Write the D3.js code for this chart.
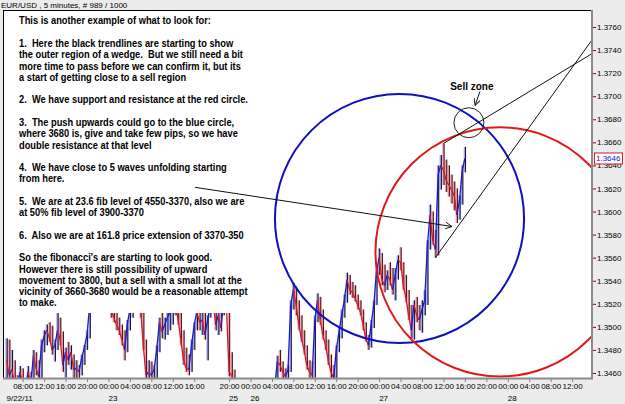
<!DOCTYPE html>
<html>
<head>
<meta charset="utf-8">
<script src="https://d3js.org/d3.v7.min.js"></script>
<style>
  body { margin: 0; background: #ececec; }
  svg { display: block; font-family: "Liberation Sans", Arial, sans-serif; }
</style>
</head>
<body>
<svg id="chart" width="625" height="404"></svg>
<script>
// EUR/USD 5 minute chart, resampled to 30 minute slots (slot 0 = 9/22 05:00)
const highs = [
  1.3490,1.3489,1.3480,1.3471,1.3458,1.3466,1.3464,1.3454,1.3466,1.3461,
  1.3480,1.3478,1.3471,1.3489,1.3497,1.3502,1.3504,1.3501,1.3489,1.3515,
  1.3508,1.3496,1.3482,1.3487,1.3484,1.3476,1.3471,1.3467,1.3476,1.3484,
  1.3497,1.3523,1.3541,1.3549,1.3554,1.3549,1.3541,1.3536,1.3532,1.3528,
  1.3523,1.3519,1.3508,1.3502,1.3497,1.3506,1.3519,1.3532,1.3536,1.3541,
  1.3532,1.3519,1.3489,1.3471,1.3470,1.3467,1.3484,1.3508,1.3515,1.3508,
  1.3513,1.3519,1.3523,1.3528,1.3519,1.3513,1.3497,1.3482,1.3476,1.3489,
  1.3504,1.3516,1.3519,1.3515,1.3513,1.3510,1.3523,1.3532,1.3519,1.3515,
  1.3516,1.3528,1.3532,
  1.3515,1.3478,1.3463,1.3450,1.3447,1.3445,1.3444,1.3441,1.3444,1.3447,
  1.3445,1.3443,1.3445,1.3449,1.3451,1.3450,1.3447,1.3451,1.3475,1.3480,
  1.3470,1.3464,1.3467,1.3523,1.3538,1.3535,1.3523,1.3510,1.3497,1.3484,
  1.3471,1.3470,1.3510,1.3529,1.3526,1.3515,1.3497,1.3489,1.3476,1.3467,
  1.3484,1.3499,1.3515,1.3528,1.3547,1.3545,1.3539,1.3536,1.3528,1.3523,
  1.3515,1.3504,1.3493,1.3506,1.3523,1.3551,1.3568,1.3564,1.3554,1.3549,
  1.3556,1.3551,1.3551,1.3562,1.3569,1.3556,1.3545,1.3532,1.3519,1.3523,
  1.3526,1.3519,1.3523,1.3532,1.3575,1.3606,1.3600,1.3584,1.3640,1.3649,
  1.3659,1.3645,1.3640,1.3632,1.3626,1.3620,1.3614,1.3640,1.3656
];
const lows = [
  1.3450,1.3454,1.3450,1.3445,1.3441,1.3444,1.3445,1.3441,1.3447,1.3444,
  1.3450,1.3458,1.3452,1.3454,1.3478,1.3484,1.3487,1.3476,1.3470,1.3480,
  1.3484,1.3461,1.3456,1.3467,1.3463,1.3450,1.3452,1.3450,1.3458,1.3467,
  1.3480,1.3490,1.3515,1.3528,1.3532,1.3528,1.3519,1.3515,1.3513,1.3508,
  1.3504,1.3497,1.3493,1.3484,1.3471,1.3478,1.3497,1.3508,1.3519,1.3523,
  1.3508,1.3480,1.3450,1.3444,1.3445,1.3441,1.3454,1.3478,1.3490,1.3489,
  1.3493,1.3497,1.3502,1.3510,1.3502,1.3484,1.3467,1.3461,1.3458,1.3461,
  1.3480,1.3497,1.3497,1.3493,1.3489,1.3471,1.3508,1.3515,1.3497,1.3493,
  1.3496,1.3510,1.3515,
  1.3457,1.3454,1.3441,1.3432,1.3430,1.3428,1.3426,1.3424,1.3426,1.3430,
  1.3428,1.3424,1.3428,1.3432,1.3435,1.3433,1.3431,1.3435,1.3450,1.3461,
  1.3454,1.3450,1.3450,1.3461,1.3515,1.3510,1.3497,1.3487,1.3476,1.3463,
  1.3456,1.3454,1.3456,1.3504,1.3502,1.3489,1.3480,1.3467,1.3456,1.3450,
  1.3454,1.3478,1.3490,1.3508,1.3521,1.3528,1.3525,1.3522,1.3515,1.3510,
  1.3497,1.3487,1.3480,1.3482,1.3499,1.3519,1.3545,1.3536,1.3530,1.3532,
  1.3536,1.3528,1.3523,1.3541,1.3549,1.3532,1.3521,1.3506,1.3490,1.3489,
  1.3504,1.3497,1.3495,1.3510,1.3519,1.3567,1.3571,1.3560,1.3562,1.3619,
  1.3623,1.3617,1.3613,1.3607,1.3601,1.3590,1.3593,1.3606,1.3634
];
const closes = [
  1.3471,1.3458,1.3463,1.3450,1.3445,1.3461,1.3450,1.3447,1.3461,1.3450,
  1.3475,1.3464,1.3457,1.3484,1.3492,1.3497,1.3490,1.3480,1.3484,1.3497,
  1.3489,1.3467,1.3478,1.3471,1.3478,1.3463,1.3464,1.3461,1.3473,1.3482,
  1.3493,1.3519,1.3536,1.3541,1.3545,1.3532,1.3532,1.3523,1.3519,1.3515,
  1.3508,1.3502,1.3497,1.3489,1.3480,1.3502,1.3515,1.3528,1.3532,1.3528,
  1.3515,1.3484,1.3458,1.3461,1.3458,1.3463,1.3480,1.3504,1.3496,1.3502,
  1.3508,1.3513,1.3519,1.3519,1.3506,1.3489,1.3471,1.3464,1.3463,1.3484,
  1.3502,1.3513,1.3504,1.3506,1.3493,1.3506,1.3519,1.3523,1.3502,1.3510,
  1.3499,1.3523,1.3519,
  1.3461,1.3458,1.3445,1.3441,1.3438,1.3437,1.3432,1.3430,1.3437,1.3441,
  1.3435,1.3432,1.3438,1.3444,1.3445,1.3441,1.3438,1.3447,1.3470,1.3467,
  1.3461,1.3457,1.3463,1.3519,1.3532,1.3519,1.3502,1.3490,1.3480,1.3467,
  1.3461,1.3458,1.3506,1.3523,1.3506,1.3493,1.3484,1.3471,1.3461,1.3456,
  1.3480,1.3495,1.3510,1.3523,1.3541,1.3532,1.3530,1.3525,1.3519,1.3513,
  1.3502,1.3490,1.3484,1.3502,1.3519,1.3548,1.3560,1.3541,1.3536,1.3545,
  1.3541,1.3532,1.3545,1.3558,1.3556,1.3536,1.3525,1.3510,1.3497,1.3519,
  1.3510,1.3506,1.3515,1.3523,1.3571,1.3597,1.3575,1.3567,1.3632,1.3640,
  1.3636,1.3627,1.3623,1.3619,1.3614,1.3597,1.3610,1.3636,1.3646
];

const priceTicks = d3.range(1.3460, 1.37601, 0.002);
const timeTickSlots = [6,14,22,30,38,46,54,62,70,83,91,99,107,115,123,131,139,147,155,163,171,179,187,195,203,211];
const timeTickLabels = ["08:00","12:00","16:00","20:00","00:00","04:00","08:00","12:00","16:00",
  "20:00","00:00","04:00","08:00","12:00","16:00","20:00","00:00","04:00","08:00","12:00","16:00","20:00",
  "00:00","04:00","08:00","12:00"];
const dateSlots = [0, 38, 83, 91, 139, 187];
const dateLabels = ["9/22/11", "23", "25", "26", "27", "28"];

// drawn objects (slot, price)
const trendlines = [
  {k1: 163, p1: 1.3659, k2: 218.5, p2: 1.3737},
  {k1: 160, p1: 1.3560, k2: 218.5, p2: 1.3749}
];
const arrows = [
  {k1: 70.3, p1: 1.3621, k2: 166.2, p2: 1.3587},
  {k1: 176.6, p1: 1.3704, k2: 174.8, p2: 1.3692}
];
const circles = [
  {k: 146.6, p: 1.3594, r: 0.0108, color: "#1010c0"},
  {k: 184.1, p: 1.3565, r: 0.0108, color: "#e01818"},
  {k: 172.5, p: 1.3677, r: 0.0013, color: "#222"}
];
const sellLabel = {k: 173.6, p: 1.3705, text: "Sell zone"};

const notes = [
  "This is another example of what to look for:",
  "",
  "1.  Here the black trendlines are starting to show",
  "the outer region of a wedge.  But we still need a bit",
  "more time to pass before we can confirm it, but its",
  "a start of getting close to a sell region",
  "",
  "2.  We have support and resistance at the red circle.",
  "",
  "3.  The push upwards could go to the blue circle,",
  "where 3680 is, give and take few pips, so we have",
  "double resistance at that level",
  "",
  "4.  We have close to 5 waves unfolding starting",
  "from here.",
  "",
  "5.  We are at 23.6 fib level of 4550-3370, also we are",
  "at 50% fib level of 3900-3370",
  "",
  "6.  Also we are at 161.8 price extension of 3370-350",
  "",
  "So the fibonacci's are starting to look good.",
  "However there is still possibility of upward",
  "movement to 3800, but a sell with a small lot at the",
  "vicinity of 3660-3680 would be a reasonable attempt",
  "to make."
];

const svg = d3.select("#chart");
const plot = {left: 4, top: 10, right: 592, bottom: 378};

const x = d3.scaleLinear().domain([0, 211]).range([6.6, 572.1]);
const y = d3.scaleLinear().domain([1.3460, 1.3760]).range([373, 27]);

const defs = svg.append("defs");
defs.append("clipPath").attr("id", "plotclip")
  .append("rect")
  .attr("x", plot.left).attr("y", plot.top)
  .attr("width", plot.right - plot.left).attr("height", plot.bottom - plot.top);

defs.append("marker")
  .attr("id", "arrowhead")
  .attr("viewBox", "0 0 10 10")
  .attr("refX", 10).attr("refY", 5)
  .attr("markerWidth", 7).attr("markerHeight", 7)
  .attr("markerUnits", "userSpaceOnUse")
  .attr("orient", "auto")
  .append("path")
  .attr("d", "M0,0 L10,5 L0,10")
  .attr("fill", "none")
  .attr("stroke", "#111")
  .attr("stroke-width", 1.3);

svg.append("rect")
  .attr("x", plot.left).attr("y", plot.top)
  .attr("width", plot.right - plot.left).attr("height", plot.bottom - plot.top)
  .attr("fill", "#fff");

const g = svg.append("g").attr("clip-path", "url(#plotclip)");

// bars
const slots = d3.range(closes.length);
g.selectAll(".wick")
  .data(slots)
  .enter()
  .append("line")
  .attr("x1", (k) => x(k)).attr("x2", (k) => x(k))
  .attr("y1", (k) => y(highs[k])).attr("y2", (k) => y(lows[k]))
  .attr("stroke", (k) => k > 0 && closes[k] < closes[k - 1] ? "#e8a0a8" : "#a8a8e8")
  .attr("stroke-width", 2.4);

g.selectAll(".wick2")
  .data(slots)
  .enter()
  .append("line")
  .attr("x1", (k) => x(k) + 0.6).attr("x2", (k) => x(k) + 0.6)
  .attr("y1", (k) => y(highs[k])).attr("y2", (k) => y(lows[k]))
  .attr("stroke", (k) => k > 0 && closes[k] < closes[k - 1] ? "#401018" : "#101030")
  .attr("stroke-width", 1);

g.selectAll(".seg")
  .data(slots.slice(1))
  .enter()
  .append("line")
  .attr("x1", (k) => x(k - 1)).attr("x2", (k) => x(k))
  .attr("y1", (k) => y(closes[k - 1])).attr("y2", (k) => y(closes[k]))
  .attr("stroke", (k) => closes[k] >= closes[k - 1] ? "#1a1ad0" : "#d81828")
  .attr("stroke-width", 1.3);

// text box over the older bars
g.append("rect")
  .attr("x", plot.left).attr("y", plot.top)
  .attr("width", 264).attr("height", 303)
  .attr("fill", "#fff");

const notesG = svg.append("g")
  .attr("transform", "translate(19,0) scale(0.93,1)")
  .attr("font-size", 10)
  .attr("font-weight", "bold")
  .attr("fill", "#000");
notesG.selectAll("text")
  .data(notes)
  .enter()
  .append("text")
  .attr("x", 0)
  .attr("y", (d, i) => 24.5 + i * 11.28)
  .attr("xml:space", "preserve")
  .style("white-space", "pre")
  .text((d) => d);

// circles
g.selectAll(".circle")
  .data(circles)
  .enter()
  .append("circle")
  .attr("cx", (d) => x(d.k))
  .attr("cy", (d) => y(d.p))
  .attr("r", (d) => y(d.p) - y(d.p + d.r))
  .attr("fill", "none")
  .attr("stroke", (d) => d.color)
  .attr("stroke-width", (d) => d.r > 0.005 ? 2 : 1);

// trendlines
g.selectAll(".trend")
  .data(trendlines)
  .enter()
  .append("line")
  .attr("x1", (d) => x(d.k1)).attr("y1", (d) => y(d.p1))
  .attr("x2", (d) => x(d.k2)).attr("y2", (d) => y(d.p2))
  .attr("stroke", "#111")
  .attr("stroke-width", 1);

g.selectAll(".arrow")
  .data(arrows)
  .enter()
  .append("line")
  .attr("x1", (d) => x(d.k1)).attr("y1", (d) => y(d.p1))
  .attr("x2", (d) => x(d.k2)).attr("y2", (d) => y(d.p2))
  .attr("stroke", "#111")
  .attr("stroke-width", 1)
  .attr("marker-end", "url(#arrowhead)");

svg.append("text")
  .attr("x", x(sellLabel.k))
  .attr("y", y(sellLabel.p))
  .attr("text-anchor", "middle")
  .attr("font-size", 10)
  .attr("font-weight", "bold")
  .text(sellLabel.text);

// frame
svg.append("line")
  .attr("x1", 3.5).attr("x2", 3.5).attr("y1", plot.top).attr("y2", plot.bottom)
  .attr("stroke", "#000");
svg.append("line")
  .attr("x1", 3).attr("x2", plot.right).attr("y1", 10.5).attr("y2", 10.5)
  .attr("stroke", "#000");

// right price axis
const yAxis = d3.axisRight(y).tickValues(priceTicks).tickSize(4).tickFormat(d3.format(".4f"));
const yg = svg.append("g")
  .attr("transform", `translate(${plot.right},0)`)
  .call(yAxis);
yg.select(".domain").remove();
yg.selectAll(".tick line").attr("stroke", "#900000");
yg.selectAll(".tick text").attr("font-size", 8).attr("fill", "#000")
  .attr("x", 5).attr("font-family", "Liberation Sans, Arial, sans-serif");
svg.append("line")
  .attr("x1", plot.right).attr("x2", plot.right).attr("y1", plot.top).attr("y2", plot.bottom + 1)
  .attr("stroke", "#8c8c8c").attr("stroke-width", 2);

// bottom time axis
const xAxis = d3.axisBottom(x).tickValues(timeTickSlots).tickSize(3)
  .tickFormat((d, i) => timeTickLabels[i]);
const xg = svg.append("g")
  .attr("transform", `translate(0,${plot.bottom + 1})`)
  .call(xAxis);
xg.select(".domain").remove();
xg.selectAll(".tick line").attr("stroke", "#808080");
xg.selectAll(".tick text").attr("font-size", 8).attr("fill", "#000").attr("y", 4)
  .attr("font-family", "Liberation Sans, Arial, sans-serif");
svg.append("line")
  .attr("x1", 3).attr("x2", plot.right + 1).attr("y1", plot.bottom + 0.5).attr("y2", plot.bottom + 0.5)
  .attr("stroke", "#8c8c8c").attr("stroke-width", 2);

svg.selectAll(".date")
  .data(dateSlots)
  .enter()
  .append("text")
  .attr("x", (d) => x(d))
  .attr("y", 401)
  .attr("font-size", 8)
  .text((d, i) => dateLabels[i]);

// current price box (sits over the 1.3640 label, as in the platform)
const last = closes[closes.length - 1];
svg.append("rect")
  .attr("x", 594.5).attr("y", y(last) - 5.5)
  .attr("width", 28).attr("height", 11)
  .attr("fill", "#fff").attr("stroke", "#d02020");
svg.append("text")
  .attr("x", 596).attr("y", y(last) + 3)
  .attr("font-size", 8)
  .attr("fill", "#1818d0")
  .text(d3.format(".4f")(last));

// title
svg.append("text")
  .attr("x", 1).attr("y", 7.5)
  .attr("font-size", 8)
  .text("EUR/USD , 5 minutes, # 989 / 1000");
</script>
</body>
</html>
